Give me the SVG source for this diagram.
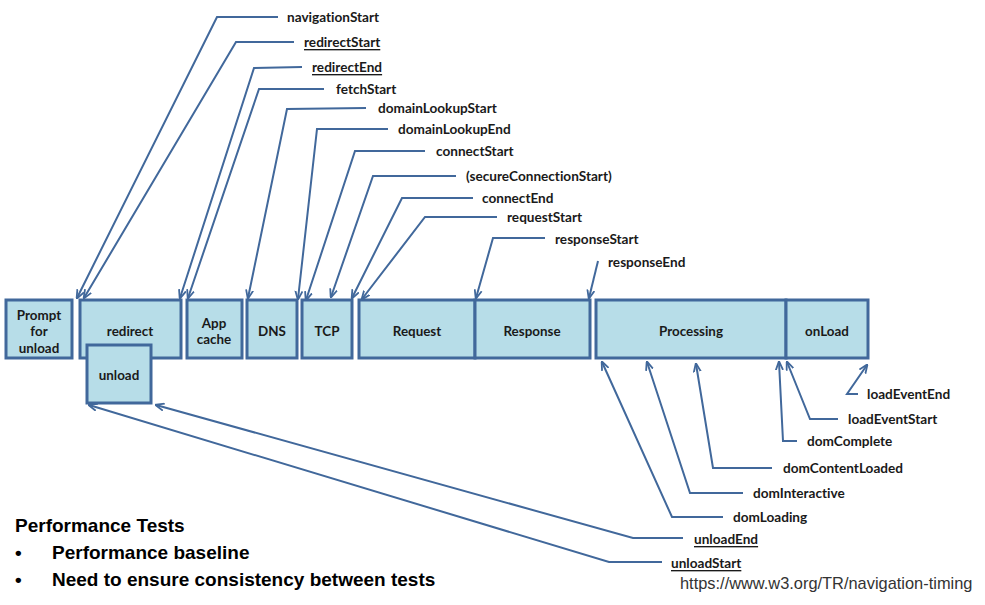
<svg xmlns="http://www.w3.org/2000/svg" width="985" height="605" viewBox="0 0 985 605">
<defs>
<style>
.box{fill:#b7dde8;stroke:#41689b;stroke-width:3}
.bl{font-family:Lato,"Open Sans",sans-serif;font-weight:bold;font-size:13.4px;fill:#1a1a1a;text-anchor:middle;dominant-baseline:central;font-variant-ligatures:none}
.lbl{font-family:Lato,"Open Sans",sans-serif;font-weight:bold;font-size:13.6px;fill:#1a1a1a;dominant-baseline:central;font-variant-ligatures:none}
.u{text-decoration:underline}
.c{fill:none;stroke:#41689b;stroke-width:2;marker-end:url(#ah)}
.big{font-family:"Liberation Sans",Arial,sans-serif;font-weight:bold;font-size:19px;fill:#000}
.url{font-family:"Liberation Sans",Arial,sans-serif;font-size:16.4px;fill:#333}
</style>
<marker id="ah" viewBox="0 0 10 10" refX="9" refY="5" markerWidth="9" markerHeight="9" markerUnits="userSpaceOnUse" orient="auto">
<path d="M0,1 L10,5 L0,9" fill="none" stroke="#41689b" stroke-width="2"/>
</marker>
</defs>
<rect width="985" height="605" fill="#fff"/>

<g id="prompt"><rect class="box" x="6" y="300" width="66" height="58"/><text class="bl" x="39" y="315">Prompt</text><text class="bl" x="39" y="331">for</text><text class="bl" x="39" y="348">unload</text></g>
<g id="redirect"><rect class="box" x="80" y="300" width="101" height="58"/><text class="bl" x="130" y="331">redirect</text></g>
<g id="unload"><rect class="box" x="87" y="345" width="64" height="58"/><text class="bl" x="119" y="375">unload</text></g>
<g id="appcache"><rect class="box" x="187" y="300" width="55" height="58"/><text class="bl" x="214" y="323">App</text><text class="bl" x="214" y="339">cache</text></g>
<g id="dns"><rect class="box" x="247" y="300" width="50" height="58"/><text class="bl" x="272" y="331">DNS</text></g>
<g id="tcp"><rect class="box" x="302" y="300" width="50" height="58"/><text class="bl" x="327" y="331">TCP</text></g>
<g id="request"><rect class="box" x="359" y="300" width="116" height="58"/><text class="bl" x="417" y="331">Request</text></g>
<g id="response"><rect class="box" x="475" y="300" width="115" height="58"/><text class="bl" x="532" y="331">Response</text></g>
<g id="processing"><rect class="box" x="596" y="300" width="190" height="58"/><text class="bl" x="691" y="331">Processing</text></g>
<g id="onload"><rect class="box" x="786" y="300" width="82" height="58"/><text class="bl" x="827" y="331">onLoad</text></g>

<g id="connectors">
<polyline class="c" points="278,17 217,17 77,298"/>
<polyline class="c" points="294,42 236,42 84,298"/>
<polyline class="c" points="302,67 254,68 180,298"/>
<polyline class="c" points="324,89 259,89 188,298"/>
<polyline class="c" points="366,108 287,109 248,298"/>
<polyline class="c" points="388,129 317,129 298,299"/>
<polyline class="c" points="425,151 355,151 306,300"/>
<polyline class="c" points="456,176 373,176 331,297"/>
<polyline class="c" points="473,198 402,198 352,298"/>
<polyline class="c" points="497,217 425,217 362,299"/>
<polyline class="c" points="545,238 493,238 476,298"/>
<polyline class="c" points="598,261 589,298"/>
<polyline class="c" points="858,394 847,394 867,365"/>
<polyline class="c" points="838,419 810,419 787,362"/>
<polyline class="c" points="797,441 783,441 779,362"/>
<polyline class="c" points="772,468 713,468 696,364"/>
<polyline class="c" points="743,493 690,493 647,362"/>
<polyline class="c" points="723,517 672,517 602,362"/>
<polyline class="c" points="683,538 633,538 156,405"/>
<polyline class="c" points="662,562 609,562 89,405"/>
</g>

<g id="labels">
<text class="lbl" x="287" y="17">navigationStart</text>
<text class="lbl u" x="304" y="42">redirectStart</text>
<text class="lbl u" x="312" y="67">redirectEnd</text>
<text class="lbl" x="336" y="89">fetchStart</text>
<text class="lbl" x="378" y="108">domainLookupStart</text>
<text class="lbl" x="398" y="129">domainLookupEnd</text>
<text class="lbl" x="436" y="151">connectStart</text>
<text class="lbl" x="466" y="176">(secureConnectionStart)</text>
<text class="lbl" x="482" y="198">connectEnd</text>
<text class="lbl" x="507" y="217">requestStart</text>
<text class="lbl" x="555" y="239">responseStart</text>
<text class="lbl" x="608" y="262">responseEnd</text>
<text class="lbl" x="867" y="394">loadEventEnd</text>
<text class="lbl" x="848" y="419">loadEventStart</text>
<text class="lbl" x="807" y="441">domComplete</text>
<text class="lbl" x="783" y="468">domContentLoaded</text>
<text class="lbl" x="753" y="493">domInteractive</text>
<text class="lbl" x="733" y="517">domLoading</text>
<text class="lbl u" x="694" y="539">unloadEnd</text>
<text class="lbl u" x="671" y="563">unloadStart</text>
</g>

<g id="notes">
<text class="big" x="15" y="532">Performance Tests</text>
<text class="big" x="15" y="559">•</text>
<text class="big" x="52" y="559">Performance baseline</text>
<text class="big" x="15" y="586">•</text>
<text class="big" x="52" y="586">Need to ensure consistency between tests</text>
<text class="url" x="680" y="589">https://www.w3.org/TR/navigation-timing</text>
</g>
</svg>
